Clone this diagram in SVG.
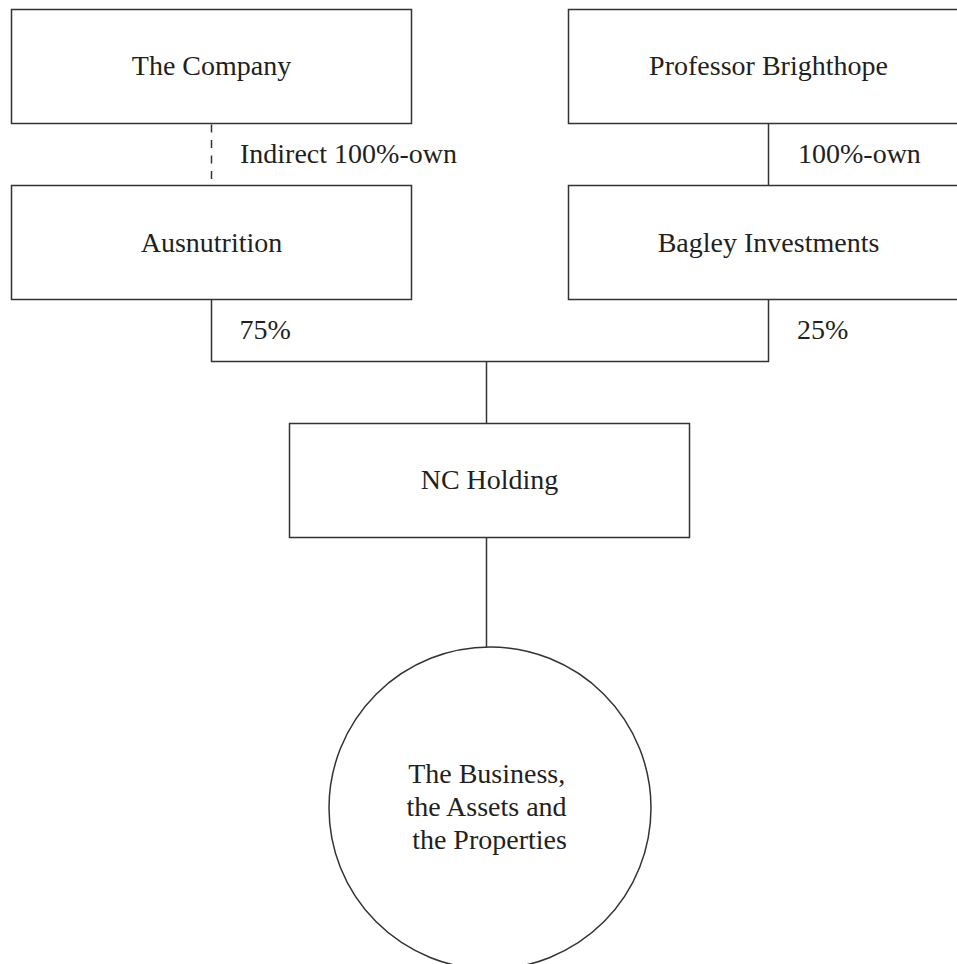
<svg xmlns="http://www.w3.org/2000/svg" width="957" height="964" viewBox="0 0 957 964">
<style>
.box{fill:#fff;stroke:#333;stroke-width:1.5}
.ln{fill:none;stroke:#333;stroke-width:1.5}
.dash{stroke-dasharray:8 7.5}
text{font-family:"Liberation Serif","Times New Roman",serif;font-size:28px;fill:#231f20}
.c{text-anchor:middle}
</style>
<rect width="957" height="964" fill="#fff"/>
<g id="connectors">
<line class="ln dash" x1="211.5" y1="124.5" x2="211.5" y2="185.5"/>
<line class="ln" x1="768.5" y1="123.5" x2="768.5" y2="185.5"/>
<path class="ln" d="M211.5 299.5 V361.5 H768.5 V299.5"/>
<line class="ln" x1="486.5" y1="361.5" x2="486.5" y2="423.5"/>
<line class="ln" x1="486.5" y1="537.5" x2="486.5" y2="647"/>
<text x="240" y="163.3">Indirect 100%-own</text>
<text x="798" y="163.3">100%-own</text>
<text x="239.5" y="339.3">75%</text>
<text x="797" y="339.3">25%</text>
</g>
<g id="company">
<rect class="box" x="11.5" y="9.5" width="400" height="114"/>
<text class="c" x="211.5" y="75">The Company</text>
</g>
<g id="brighthope">
<rect class="box" x="568.5" y="9.5" width="400" height="114"/>
<text class="c" x="768.5" y="75">Professor Brighthope</text>
</g>
<g id="ausnutrition">
<rect class="box" x="11.5" y="185.5" width="400" height="114"/>
<text class="c" x="211.5" y="251.7">Ausnutrition</text>
</g>
<g id="bagley">
<rect class="box" x="568.5" y="185.5" width="400" height="114"/>
<text class="c" x="768.5" y="251.7">Bagley Investments</text>
</g>
<g id="ncholding">
<rect class="box" x="289.5" y="423.5" width="400" height="114"/>
<text class="c" x="489.5" y="489.3">NC Holding</text>
</g>
<g id="business">
<circle class="box" cx="490" cy="808" r="161"/>
<text class="c" x="486.7" y="782.7">The Business,</text>
<text class="c" x="486.5" y="816">the Assets and</text>
<text class="c" x="489.5" y="849.3">the Properties</text>
</g>
</svg>
